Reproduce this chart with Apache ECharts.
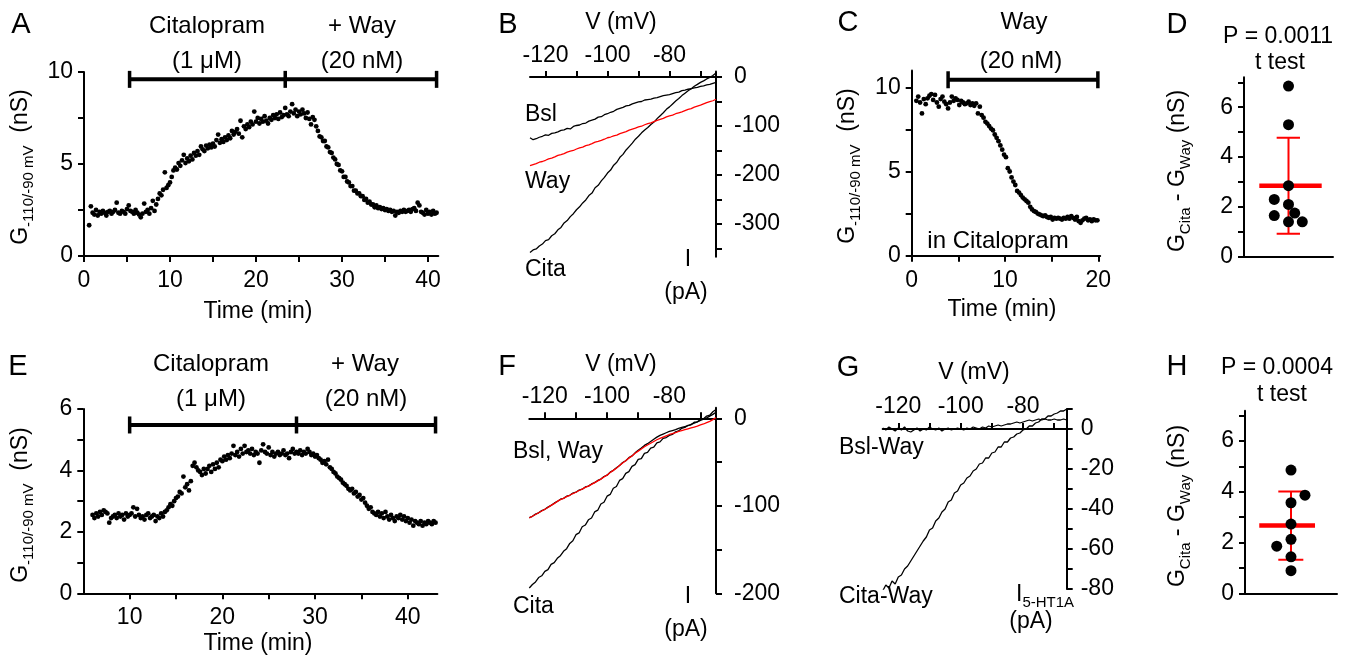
<!DOCTYPE html>
<html><head><meta charset="utf-8">
<script src="https://cdn.jsdelivr.net/npm/echarts@6/dist/echarts.min.js"></script>
<style>html,body{margin:0;padding:0;background:#fff}#c{width:1348px;height:664px}</style>
</head><body><div id="c"></div>
<script>
const FONT = '"Liberation Sans", Arial, Helvetica, sans-serif';

// ---------- Panel A: conductance vs time (sampled every 0.2 min from 0.6 min) ----------
const A_t0 = 0.6, A_dt = 0.2;
const A_G = [
1.67,2.7,2.35,2.25,2.5,2.2,2.4,2.3,2.45,2.35,
2.2,2.4,2.45,2.3,2.4,2.5,2.9,2.35,2.3,2.45,
2.4,2.3,2.55,2.75,2.45,2.4,2.3,2.5,2.35,2.25,
2.1,2.3,2.85,2.4,2.5,2.3,2.6,3.0,2.45,2.8,
3.1,3.4,3.3,3.6,4.55,3.7,3.85,4.0,4.3,4.65,
4.8,4.7,5.05,4.9,5.2,5.5,5.05,5.3,5.15,5.45,
5.25,5.6,5.45,5.7,5.5,5.95,5.8,5.7,6.0,5.85,
6.05,5.9,6.1,5.95,6.3,6.6,6.15,6.35,6.2,6.45,
6.3,6.55,6.4,6.8,6.6,6.75,6.9,6.65,7.35,6.45,
7.05,6.9,7.15,7.0,7.3,7.15,7.85,7.3,7.5,7.2,
7.45,7.3,7.6,7.35,7.2,7.5,7.4,7.65,7.5,7.7,
7.45,7.8,7.55,7.65,8.05,7.7,7.6,7.85,8.25,7.75,
7.95,7.6,7.85,7.7,7.95,7.75,7.5,7.8,7.45,7.15,
7.55,7.4,7.05,6.8,6.5,6.45,6.25,6.25,5.95,5.9,
5.65,5.6,5.35,5.25,5.0,4.95,4.65,4.6,4.3,4.3,
4.05,4.0,3.8,3.8,3.55,3.55,3.4,3.4,3.25,3.25,
3.05,3.1,2.9,2.95,2.8,2.8,2.65,2.75,2.6,2.65,
2.55,2.6,2.5,2.55,2.45,2.5,2.4,2.45,2.2,2.4,
2.35,2.45,2.4,2.5,2.4,2.45,2.5,2.4,2.55,2.6,
2.45,2.9,2.75,2.4,2.35,2.25,2.5,2.3,2.4,2.25,
2.45,2.3,2.35
];
const A_barTimes = [5.3, 23.4, 41.0];
const A_barLevel = 9.6;

// ---------- Panel C ----------
const C_t0 = 0.5, C_dt = 0.2;
const C_G = [
9.2,9.45,9.1,8.45,9.3,9.0,9.35,9.5,9.6,9.25,
9.55,9.1,8.85,9.3,9.45,9.15,9.0,8.75,9.1,9.45,
9.2,9.35,9.25,8.95,9.2,9.1,9.0,9.05,9.15,8.95,
9.05,8.9,9.05,8.45,8.85,8.35,8.2,7.95,7.85,7.7,
7.55,7.45,7.2,7.0,6.8,6.55,6.3,6.0,5.85,5.2,
5.0,4.65,4.4,4.2,3.85,3.75,3.6,3.45,3.35,3.25,
3.15,2.9,2.75,2.65,2.6,2.5,2.45,2.4,2.35,2.4,
2.3,2.25,2.3,2.15,2.25,2.2,2.25,2.2,2.15,2.25,
2.2,2.3,2.2,2.35,2.25,2.15,2.3,2.05,1.95,2.1,
2.2,2.25,2.1,2.15,2.05,2.15,2.1,2.1
];
const C_barTimes = [3.9, 19.95];
const C_barLevel = 10.45;

// ---------- Panel E ----------
const E_t0 = 6.0, E_dt = 0.2;
const E_G = [
2.55,2.45,2.6,2.5,2.65,2.55,2.7,2.65,2.6,2.3,
2.45,2.5,2.55,2.45,2.6,2.5,2.55,2.4,2.6,2.5,
2.55,2.6,2.8,2.5,2.75,2.55,2.45,2.5,2.4,2.55,
2.6,2.45,2.5,2.55,2.35,2.5,2.45,2.6,2.5,2.65,
2.7,2.8,2.9,2.85,3.0,3.1,3.15,3.3,3.25,3.8,
3.45,3.55,3.35,3.65,4.15,4.25,4.1,4.0,3.95,3.85,
4.05,3.9,4.05,4.15,3.95,4.2,4.05,4.25,4.1,4.35,
4.3,4.45,4.35,4.5,4.4,4.55,4.8,4.5,4.6,4.45,
4.7,4.55,4.8,4.6,4.65,4.55,4.7,4.5,4.6,4.55,
4.25,4.65,4.85,4.6,4.55,4.75,4.5,4.6,4.45,4.55,
4.6,4.5,4.55,4.65,4.5,4.55,4.4,4.6,4.7,4.55,
4.6,4.55,4.65,4.5,4.6,4.55,4.7,4.6,4.5,4.55,
4.45,4.5,4.4,4.35,4.25,4.3,4.2,4.35,4.1,4.05,
3.95,3.9,3.8,3.75,3.7,3.6,3.55,3.5,3.4,3.35,
3.4,3.25,3.3,3.15,3.2,3.05,3.1,2.95,2.85,2.75,
2.8,2.65,2.6,2.55,2.65,2.5,2.6,2.45,2.65,2.5,
2.4,2.55,2.45,2.35,2.5,2.45,2.55,2.4,2.5,2.35,
2.45,2.3,2.4,2.2,2.35,2.3,2.25,2.35,2.2,2.3,
2.25,2.35,2.3,2.25,2.35,2.3
];
const E_barTimes = [10.0, 28.0, 43.0];
const E_barLevel = 5.48;

// ---------- I-V traces (sampled every 1 mV from -125 mV) ----------
const V0 = -125, dV = 1;
const B_Bsl = [
-124,-128,-126,-123,-121,-118,-119,-115,-114,-112,
-109,-108,-105,-106,-101,-99,-98,-95,-94,-90,
-88,-86,-82,-81,-77,-75,-72,-70,-66,-64,
-62,-59,-58,-55,-53,-51,-50,-47,-46,-45,
-43,-42,-40,-38,-37,-36,-34,-32,-31,-28,
-27,-25,-24,-22,-21,-19,-18,-16,-15,-13,
-11];
const B_Way = [
-181,-179,-177,-174,-172.5,-170,-167,-165.5,-163,-160,
-158.5,-156.5,-153.5,-151.5,-150,-147,-144.5,-143,-140,-138.5,
-136,-133,-131.5,-129.5,-127,-124,-122.5,-120,-118.5,-115.5,
-113.5,-111.5,-108.5,-106.5,-104.5,-102,-100.5,-97.5,-95,-93.5,
-91,-88.5,-86.5,-84.5,-81.5,-79.5,-78,-75,-73,-71,
-68.5,-66,-64.5,-61.5,-59.5,-57.5,-55,-52.5,-50.5,-48.5,
-45.5];
const B_Cita = [
-358,-353,-351,-345,-341,-334,-332,-324,-320,-312,
-307,-298,-293,-285,-279,-271,-265,-257,-251,-242,
-237,-226,-221,-212,-205,-196,-190,-180,-174,-164,
-158,-149,-142,-135,-127,-121,-114,-108,-103,-97,
-92,-85,-79,-73,-66,-61,-55,-49,-44,-38,
-33,-28,-24,-19,-15,-11,-8,-4,-1,3,
8];
const F_Bsl = [
-113.5,-112,-109.5,-108,-105.5,-104,-101.5,-99.5,-97,-95,
-92.5,-91.5,-89,-88,-85.5,-84.5,-82,-81,-78.5,-77.5,
-75,-73.5,-71,-69.5,-66.5,-65,-61.5,-59.5,-56.5,-54,
-50.5,-48.5,-45,-43,-39.5,-36.5,-34,-31,-29,-26.5,
-24,-21.5,-19.5,-18,-16.5,-15,-14,-13,-11.5,-10.5,
-9.5,-8.5,-7,-5.5,-4,-2.5,-1,0.5,2.5,4.5,
7];
const F_Way = [
-114,-112,-110,-108,-106,-104,-102,-99.5,-97.5,-95,
-93,-91.5,-89.5,-88,-86,-84.5,-82.5,-81,-79,-77.5,
-75.5,-73.5,-71.5,-69.5,-67,-65,-62,-59.5,-57,-54,
-51,-48.5,-45.5,-43,-40,-37.5,-35,-32.5,-30.5,-28.5,
-26.5,-24.5,-23,-21.5,-20,-18.5,-17.5,-16.5,-15,-14,
-13,-12,-11,-10,-9,-7.5,-6.5,-5,-3.5,-1.5,
1];
const F_Cita = [
-194,-190,-187,-182,-180,-175,-173,-167,-165,-160,
-157,-152,-149,-143,-140,-133,-131,-124,-122,-116,
-114,-107,-105,-98,-96,-89,-87,-80,-78,-71,
-69,-63,-61,-55,-53,-47,-46,-40,-39,-34,
-33,-28,-27,-23,-22,-19.5,-18.5,-15.5,-14.5,-11.5,
-10.5,-8,-7.5,-4.5,-4,-1.5,-0.5,2.5,3.5,7.5,
10];
const G_CitaWay = [
-81,-78,-79.5,-76,-77.5,-74,-73,-70,-68.5,-66,
-63.5,-61,-58.5,-56,-54,-50.5,-49.5,-46,-44.5,-41.5,
-40,-36.5,-35.5,-32,-31,-28,-27,-24.5,-23.5,-21,
-20,-17.5,-17,-14.5,-14.5,-12,-11.5,-9,-9,-6.5,
-6.5,-4.5,-4,-2.5,-2,-0.5,0,1.5,1.5,3,
3.5,5,5,6.5,6.5,7.5,8,9,9,10];
const G_BslWay = [
0.5,-0.5,1,0,-1,0.5,-0.5,1,-1,-1.5,
-0.5,0.5,-1,0,-0.5,1,0,-0.5,0.5,-1,
0,0.5,-0.5,0,0.5,0,-0.5,0.5,0,1,
0.5,0,1,0.5,1.5,1,1.5,2,1.5,2,
2.5,2.5,3,3.5,3,3.5,4,4.5,4,4.5,
5,4.5,5,4.5,4.5,5,4.5,4.5,5,4.5];

// ---------- Panels D and H: individual cells (x = jitter position within column) ----------
const D_y = [6.85, 5.3, 2.85, 2.3, 2.1, 1.65, 1.75, 1.4, 1.4];
const D_x = [0.5, 0.5, 0.5, 0.34, 0.5, 0.34, 0.57, 0.5, 0.655];
const H_y = [4.86, 3.87, 3.57, 2.73, 2.13, 1.86, 1.44, 0.89];
const H_x = [0.5, 0.652, 0.5, 0.5, 0.5, 0.345, 0.5, 0.5];

// ---------- helpers ----------
const r3 = v => Math.round(v * 1000) / 1000;
const sampled = (t0, dt, arr) => arr.map((v, i) => [r3(t0 + i * dt), v]);
const pairs = (xs, ys) => ys.map((v, i) => [xs[i], v]);
const mean = a => a.reduce((s, v) => s + v, 0) / a.length;
const sd = a => { const m = mean(a); return Math.sqrt(a.reduce((s, v) => s + (v - m) * (v - m), 0) / (a.length - 1)); };

const LINE = {color: '#000', width: 2};
function xAx(grid, min, max, ticks, labels, extra) {
  return Object.assign({
    type: 'value', gridIndex: grid, min, max, position: 'bottom',
    axisLine: {show: true, onZero: false, lineStyle: LINE},
    axisTick: {show: true, customValues: ticks, length: 6, lineStyle: LINE},
    axisLabel: {show: true, customValues: labels, margin: 13, color: '#000', fontSize: 23, fontFamily: FONT},
    splitLine: {show: false}
  }, extra || {});
}
function yAx(grid, min, max, ticks, labels, extra) {
  return Object.assign({
    type: 'value', gridIndex: grid, min, max, position: 'left',
    axisLine: {show: true, onZero: false, lineStyle: LINE},
    axisTick: {show: true, customValues: ticks, length: 6, lineStyle: LINE},
    axisLabel: {show: true, customValues: labels, margin: 11, color: '#000', fontSize: 23, fontFamily: FONT},
    splitLine: {show: false}
  }, extra || {});
}
function ivX(grid, max, margin) {
  return {
    type: 'value', gridIndex: grid, min: -125, max, position: 'top',
    axisLine: {show: true, onZero: true, lineStyle: LINE},
    axisTick: {show: true, customValues: [-120, -110, -100, -90, -80, -70], length: 6, lineStyle: LINE},
    axisLabel: {show: true, customValues: [-120, -100, -80], margin, color: '#000', fontSize: 23, fontFamily: FONT},
    splitLine: {show: false}
  };
}
function ivY(grid, min, max, ticks, labels, margin) {
  return {
    type: 'value', gridIndex: grid, min, max, position: 'right',
    axisLine: {show: true, onZero: false, lineStyle: LINE},
    axisTick: {show: true, customValues: ticks, length: 6, lineStyle: LINE},
    axisLabel: {show: true, customValues: labels, margin, color: '#000', fontSize: 23, fontFamily: FONT, align: 'left'},
    splitLine: {show: false}
  };
}
const dots = (i, data, size) => ({type: 'scatter', xAxisIndex: i, yAxisIndex: i, data, symbolSize: size, itemStyle: {color: '#000', opacity: 1}, z: 5});
const trace = (i, data, color, w) => ({type: 'line', xAxisIndex: i, yAxisIndex: i, data, showSymbol: false, symbol: 'none', lineStyle: {color, width: w || 1.3}, z: color === '#000' ? 3 : 4});
const drugBar = (i, times, level) => ({type: 'line', xAxisIndex: i, yAxisIndex: i, data: times.map(t => [t, level]), symbol: 'rect', symbolSize: [3.5, 17], itemStyle: {color: '#000'}, lineStyle: {color: '#000', width: 4}, z: 6});
const seg = (i, p, q, w) => ({type: 'line', xAxisIndex: i, yAxisIndex: i, data: [p, q], symbol: 'none', lineStyle: {color: '#ff0000', width: w}, z: 2});
function statSeries(i, ys, barL, barR, capL, capR, xc) {
  const m = mean(ys), s = sd(ys);
  return [
    seg(i, [xc, m - s], [xc, m + s], 2),
    seg(i, [capL, m + s], [capR, m + s], 2),
    seg(i, [capL, m - s], [capR, m - s], 2),
    seg(i, [barL, m], [barR, m], 4.5)
  ];
}

// ---------- text helpers ----------
const rich = {
  n: {fontSize: 23, fontFamily: FONT, fill: '#000', lineHeight: 30},
  s: {fontSize: 15, fontFamily: FONT, fill: '#000', verticalAlign: 'bottom'}
};
function T(x, y, text, o) {
  o = o || {};
  return {type: 'text', x, y, rotation: o.rot || 0, z: 100, silent: true,
    style: {text, fill: '#000', fontSize: o.size || 23, fontFamily: FONT,
      align: o.align || 'center', verticalAlign: 'middle', rich: o.rich}};
}
const G_lbl = '{n|G}{s|-110/-90 mV}{n|  (nS)}';
const GD_lbl = '{n|G}{s|Cita}{n| - G}{s|Way}{n| (nS)}';
const R = Math.PI / 2;
const texts = [
  T(21, 25, 'A', {size: 29}), T(508, 25, 'B', {size: 29}), T(848, 23, 'C', {size: 29}), T(1177, 25, 'D', {size: 29}),
  T(18, 367, 'E', {size: 29}), T(507, 367, 'F', {size: 29}), T(848, 368, 'G', {size: 29}), T(1177, 367, 'H', {size: 29}),
  // A
  T(207, 26, 'Citalopram', {size: 24}), T(207, 61, '(1 \u03bcM)', {size: 24}), T(362, 26, '+ Way', {size: 24}), T(362, 61, '(20 nM)', {size: 24}),
  T(258, 312, 'Time (min)'), T(21, 167, G_lbl, {rot: R, rich}),
  // B
  T(621, 23, 'V (mV)'), T(525, 115, 'Bsl', {align: 'left'}), T(525, 182, 'Way', {align: 'left'}), T(525, 270, 'Cita', {align: 'left'}),
  T(688, 260, 'I'), T(686, 293, '(pA)'),
  // C
  T(1024, 22, 'Way', {size: 24}), T(1021, 61, '(20 nM)', {size: 24}), T(998, 241, 'in Citalopram', {size: 24}), T(1002, 310, 'Time (min)'),
  T(848, 166, G_lbl, {rot: R, rich}),
  // D
  T(1278, 37, 'P = 0.0011'), T(1280, 63, 't test'), T(1178, 171, GD_lbl, {rot: R, rich}),
  // E
  T(211, 364, 'Citalopram', {size: 24}), T(211, 399, '(1 \u03bcM)', {size: 24}), T(365, 364, '+ Way', {size: 24}), T(366, 399, '(20 nM)', {size: 24}),
  T(258, 644, 'Time (min)'), T(21, 505, G_lbl, {rot: R, rich}),
  // F
  T(621, 365, 'V (mV)'), T(513, 452, 'Bsl, Way', {align: 'left'}), T(513, 607, 'Cita', {align: 'left'}),
  T(688, 597, 'I'), T(686, 630, '(pA)'),
  // G
  T(974, 373, 'V (mV)'), T(839, 448, 'Bsl-Way', {align: 'left'}), T(839, 597, 'Cita-Way', {align: 'left'}),
  T(1016, 595, '{n|I}{s|5-HT1A}', {align: 'left', rich}), T(1031, 622, '(pA)'),
  // H
  T(1277, 368, 'P = 0.0004'), T(1282, 395, 't test'), T(1178, 506, GD_lbl, {rot: R, rich})
];

const grids = [
  {left: 84, top: 72, width: 354.3, height: 184},      // A
  {left: 530, top: 71.6, width: 186, height: 185.2},   // B
  {left: 911.7, top: 70.5, width: 188.5, height: 185.2}, // C
  {left: 1244, top: 77.3, width: 89, height: 179.4},   // D
  {left: 83.3, top: 409, width: 354.1, height: 184.3}, // E
  {left: 529.3, top: 407.8, width: 186.7, height: 185.5}, // F
  {left: 882.7, top: 409, width: 184, height: 180},    // G
  {left: 1245, top: 410.7, width: 92, height: 182.6}   // H
].map(g => Object.assign({outerBoundsMode: 'none', containLabel: false}, g));

const xAxes = [
  xAx(0, 0, 41.2, [0,5,10,15,20,25,30,35,40], [0,10,20,30,40]),
  ivX(1, -65, 4),
  xAx(2, 0, 20.2, [0,5,10,15,20], [0,10,20]),
  {type: 'value', gridIndex: 3, min: 0, max: 1, axisLine: {show: true, onZero: false, lineStyle: LINE}, axisTick: {show: false}, axisLabel: {show: false}, splitLine: {show: false}},
  xAx(4, 5, 43.2, [10,15,20,25,30,35,40], [10,20,30,40]),
  ivX(5, -65, 0),
  ivX(6, -66, -9),
  {type: 'value', gridIndex: 7, min: 0, max: 1, axisLine: {show: true, onZero: false, lineStyle: LINE}, axisTick: {show: false}, axisLabel: {show: false}, splitLine: {show: false}}
];
const yAxes = [
  yAx(0, 0, 10, [0,2.5,5,7.5,10], [0,5,10]),
  ivY(1, -367, 11, [-350,-300,-250,-200,-150,-100,-50,0], [-300,-200,-100,0], 18),
  yAx(2, 0, 11, [0,2.5,5,7.5,10], [0,5,10]),
  yAx(3, 0, 7.2, [0,1,2,3,4,5,6,7], [0,2,4,6]),
  yAx(4, 0, 6, [0,1,2,3,4,5,6], [0,2,4,6]),
  ivY(5, -200, 12, [-200,-150,-100,-50,0], [-200,-100,0], 18),
  ivY(6, -80, 10, [-80,-70,-60,-50,-40,-30,-20,-10,0,10], [-80,-60,-40,-20,0], 14),
  yAx(7, 0, 7.2, [0,1,2,3,4,5,6,7], [0,2,4,6])
];

const series = [
  dots(0, sampled(A_t0, A_dt, A_G), 4.8),
  drugBar(0, A_barTimes, A_barLevel),
  trace(1, sampled(V0, dV, B_Bsl), '#000'),
  trace(1, sampled(V0, dV, B_Cita), '#000'),
  trace(1, sampled(V0, dV, B_Way), '#ff0000'),
  dots(2, sampled(C_t0, C_dt, C_G), 4.8),
  drugBar(2, C_barTimes, C_barLevel),
  ...statSeries(3, D_y, 0.172, 0.873, 0.367, 0.629, 0.5),
  dots(3, pairs(D_x, D_y), 11),
  dots(4, sampled(E_t0, E_dt, E_G), 4.8),
  drugBar(4, E_barTimes, E_barLevel),
  trace(5, sampled(V0, dV, F_Bsl), '#000'),
  trace(5, sampled(V0, dV, F_Cita), '#000'),
  trace(5, sampled(V0, dV, F_Way), '#ff0000'),
  trace(6, sampled(V0, dV, G_BslWay), '#000'),
  trace(6, sampled(V0, dV, G_CitaWay), '#000'),
  ...statSeries(7, H_y, 0.155, 0.761, 0.362, 0.634, 0.5),
  dots(7, pairs(H_x, H_y), 11)
];

const chart = echarts.init(document.getElementById('c'), null, {renderer: 'canvas'});
chart.setOption({
  animation: false,
  backgroundColor: '#fff',
  textStyle: {fontFamily: FONT},
  grid: grids, xAxis: xAxes, yAxis: yAxes, series,
  graphic: {elements: texts}
});
</script></body></html>
